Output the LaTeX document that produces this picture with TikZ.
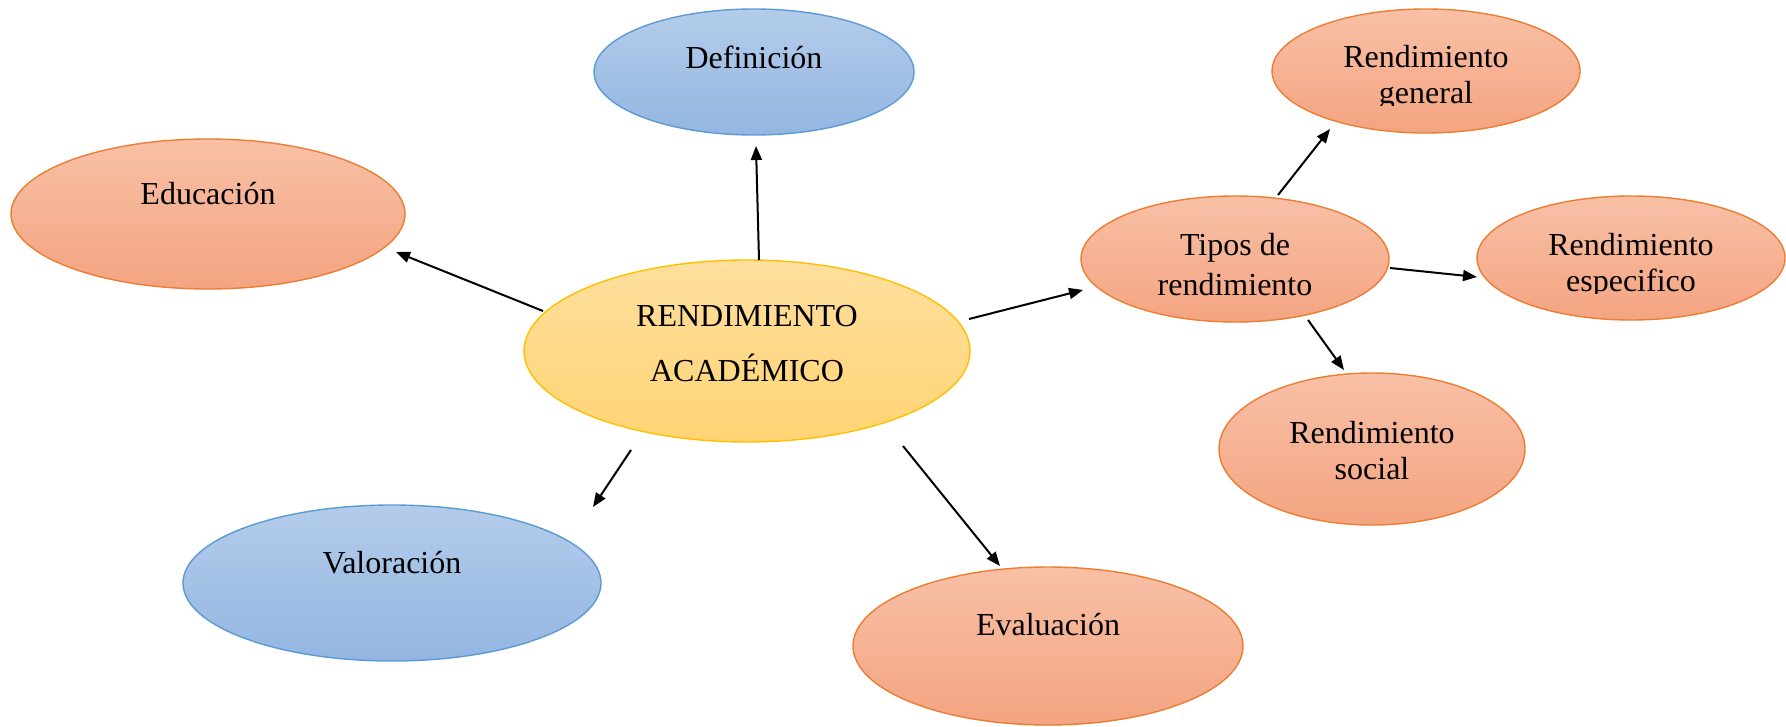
\documentclass[tikz,border=0pt]{standalone}
\usepackage{fontspec}
\setmainfont{Liberation Serif}
\usetikzlibrary{shapes.geometric,arrows.meta}
\definecolor{orfill1}{HTML}{F8C0A6}
\definecolor{orfill2}{HTML}{F4A481}
\definecolor{ordraw}{HTML}{ED7D31}
\definecolor{blfill1}{HTML}{B4CCEA}
\definecolor{blfill2}{HTML}{93B6E2}
\definecolor{bldraw}{HTML}{5B9BD5}
\definecolor{yefill1}{HTML}{FFDF9E}
\definecolor{yefill2}{HTML}{FFD474}
\definecolor{yedraw}{HTML}{FFC000}
\tikzset{
  bub/.style={ellipse, inner sep=0pt, line width=0.7pt},
  orb/.style={bub, draw=ordraw, top color=orfill1, bottom color=orfill2},
  blb/.style={bub, draw=bldraw, top color=blfill1, bottom color=blfill2},
  yeb/.style={bub, draw=yedraw, top color=yefill1, bottom color=yefill2},
  lbl/.style={align=center, inner sep=0pt, font=\fontsize{16}{18}\selectfont},
  arr/.style={-{Triangle[length=7pt,width=5.5pt]}, line width=1pt}
}
\begin{document}
\begin{tikzpicture}[x=0.5pt,y=-0.5pt]
\useasboundingbox (0,0) rectangle (1786,727);
% ellipses
\node[yeb, minimum width=223pt, minimum height=91pt] (main) at (747,351) {};
\node[blb, minimum width=160pt, minimum height=63pt] (def) at (754,72) {};
\node[orb, minimum width=197pt, minimum height=75pt] (edu) at (208,214) {};
\node[blb, minimum width=209pt, minimum height=78pt] (val) at (392,583) {};
\node[orb, minimum width=195pt, minimum height=79pt] (eva) at (1048,646) {};
\node[orb, minimum width=154pt, minimum height=63pt] (tip) at (1235,259) {};
\node[orb, minimum width=154pt, minimum height=62pt] (gen) at (1426,71) {};
\node[orb, minimum width=154pt, minimum height=62pt] (esp) at (1631,258) {};
\node[orb, minimum width=153pt, minimum height=76pt] (soc) at (1372,449) {};
% texts
\node[lbl, font=\fontsize{16}{27.5}\selectfont] (maint) at (747,344) {RENDIMIENTO\\ACADÉMICO};
\node[lbl] (deft) at (754,57) {Definición};
\node[lbl] (edut) at (208,194) {Educación};
\node[lbl] (valt) at (392,563) {Valoración};
\node[lbl] (evat) at (1048,625) {Evaluación};
\node[lbl, font=\fontsize{16}{20}\selectfont] (tipt) at (1235,265) {Tipos de\\rendimiento};
\begin{scope}
\clip (1300,20) rectangle (1560,106);
\node[lbl] (gent) at (1426,78) {Rendimiento\\general};
\end{scope}
\begin{scope}
\clip (1500,200) rectangle (1760,293);
\node[lbl] (espt) at (1631,266) {Rendimiento\\especifico};
\end{scope}
\node[lbl] (soct) at (1372,451) {Rendimiento\\social};
% connector end points
\coordinate (a1) at (759,260); \coordinate (b1) at (756,146);
\coordinate (a2) at (543,311); \coordinate (b2) at (396,252);
\coordinate (a3) at (969,319); \coordinate (b3) at (1083,290);
\coordinate (a4) at (631,450); \coordinate (b4) at (593,507);
\coordinate (a5) at (903,446); \coordinate (b5) at (1000,566);
\coordinate (a6) at (1278,195); \coordinate (b6) at (1330,129);
\coordinate (a7) at (1390,268); \coordinate (b7) at (1477,277);
\coordinate (a8) at (1308,320); \coordinate (b8) at (1344,370);
\draw[arr] (a1) -- (b1);
\draw[arr] (a2) -- (b2);
\draw[arr] (a3) -- (b3);
\draw[arr] (a4) -- (b4);
\draw[arr] (a5) -- (b5);
\draw[arr] (a6) -- (b6);
\draw[arr] (a7) -- (b7);
\draw[arr] (a8) -- (b8);
\end{tikzpicture}
\end{document}
